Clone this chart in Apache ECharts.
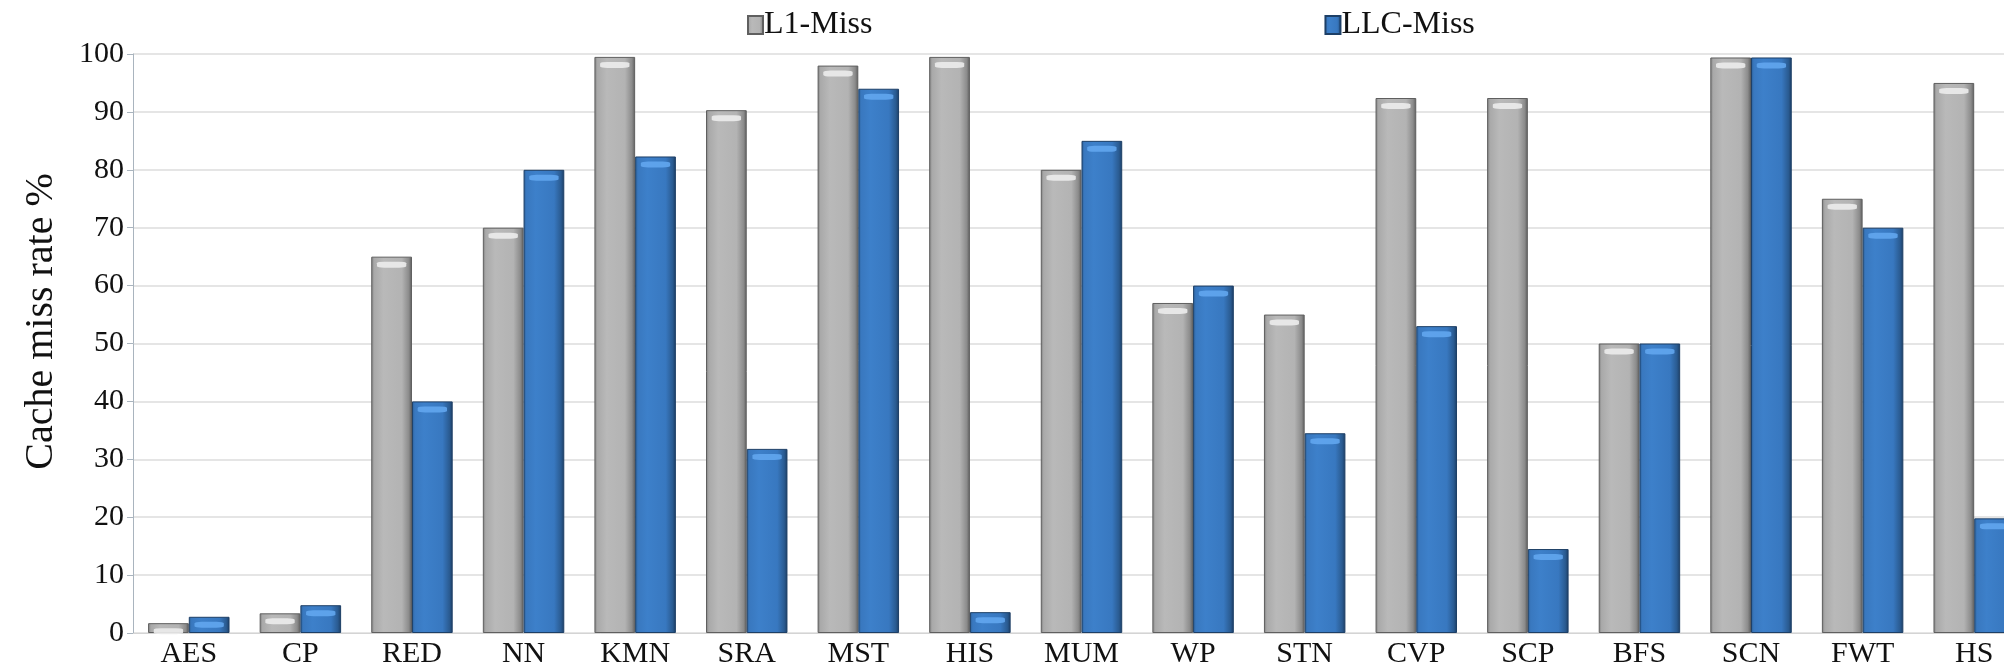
<!DOCTYPE html>
<html><head><meta charset="utf-8">
<script src="https://cdn.jsdelivr.net/npm/echarts@6/dist/echarts.min.js"></script>
<style>html,body{margin:0;padding:0;background:#fff}#c{width:2004px;height:669px}</style>
</head><body><div id="c"></div>
<script>
var categories = ['AES','CP','RED','NN','KMN','SRA','MST','HIS','MUM','WP','STN','CVP','SCP','BFS','SCN','FWT','HS'];
var l1Miss  = [1.7, 3.4, 65, 70, 99.5, 90.3, 98, 99.5, 80, 57, 55, 92.4, 92.4, 50, 99.4, 75, 95];
var llcMiss = [2.8, 4.8, 40, 80, 82.3, 31.8, 94, 3.6, 85, 60, 34.5, 53, 14.5, 50, 99.4, 70, 19.8];
var yTicks = {min: 0, max: 100, interval: 10};

var FONT = '"Liberation Serif", "Times New Roman", serif';
function hGrad(stops){
  return new echarts.graphic.LinearGradient(0,0,1,0, stops.map(function(s){return {offset:s[0], color:s[1]};}));
}
var grayFill = hGrad([[0,'#7d7d7d'],[0.07,'#a9a9a9'],[0.3,'#b9b9b9'],[0.75,'#b3b3b3'],[0.92,'#8c8c8c'],[1,'#5e5e5e']]);
var blueFill = hGrad([[0,'#2c5f96'],[0.07,'#3978bf'],[0.3,'#3d80ca'],[0.75,'#3878c0'],[0.92,'#2a5b91'],[1,'#1c3d63']]);

var chart = echarts.init(document.getElementById('c'), null, {renderer:'canvas'});
chart.setOption({
  backgroundColor: '#ffffff',
  animation: false,
  legend: {
    data: ['L1-Miss','LLC-Miss'],
    left: 742, top: 4,
    itemGap: 452,
    itemWidth: 15, itemHeight: 18,
    icon: 'rect',
    textStyle: {fontFamily: FONT, fontSize: 32, color: '#111', padding: [0,0,0,-4]}
  },
  grid: {left: 133, top: 54, bottom: 36, right: -26, containLabel: false, outerBoundsMode: 'none'},
  xAxis: {
    type: 'category',
    data: categories,
    axisTick: {show: false},
    axisLine: {lineStyle: {color: '#d4d4d4', width: 1}},
    axisLabel: {fontFamily: FONT, fontSize: 30, color: '#111', margin: 6, interval: 0}
  },
  yAxis: {
    type: 'value',
    min: yTicks.min, max: yTicks.max, interval: yTicks.interval,
    name: 'Cache miss rate %',
    nameLocation: 'middle',
    nameGap: 72,
    nameTextStyle: {fontFamily: FONT, fontSize: 40, color: '#111', padding: [0, 0, 0, 44]},
    axisLine: {show: true, lineStyle: {color: '#a9b4be', width: 1}},
    axisTick: {show: true, length: 6, lineStyle: {color: '#a9b4be'}},
    axisLabel: {fontFamily: FONT, fontSize: 30, color: '#111', margin: 9},
    splitLine: {lineStyle: {color: '#dcdcdc', width: 1.5}}
  },
  series: [
    {name: 'L1-Miss', type: 'bar', data: l1Miss, barGap: '0%', barCategoryGap: '27%',
     itemStyle: {color: grayFill, borderColor: '#5f5f5f', borderWidth: 1}},
    {name: 'LLC-Miss', type: 'bar', data: llcMiss, barGap: '0%', barCategoryGap: '27%',
     itemStyle: {color: blueFill, borderColor: '#1d3f66', borderWidth: 1}},
    {name: 'L1cap', type: 'pictorialBar', data: l1Miss, barGap: '0%', barCategoryGap: '27%',
     symbol: 'roundRect', symbolSize: ['72%', 6], symbolPosition: 'end', symbolOffset: [0, 5],
     itemStyle: {color: '#ececec', opacity: 0.9}, z: 5, silent: true},
    {name: 'LLCcap', type: 'pictorialBar', data: llcMiss, barGap: '0%', barCategoryGap: '27%',
     symbol: 'roundRect', symbolSize: ['72%', 6], symbolPosition: 'end', symbolOffset: [0, 5],
     itemStyle: {color: '#62a6ee', opacity: 0.9}, z: 5, silent: true}
  ]
});
</script></body></html>
